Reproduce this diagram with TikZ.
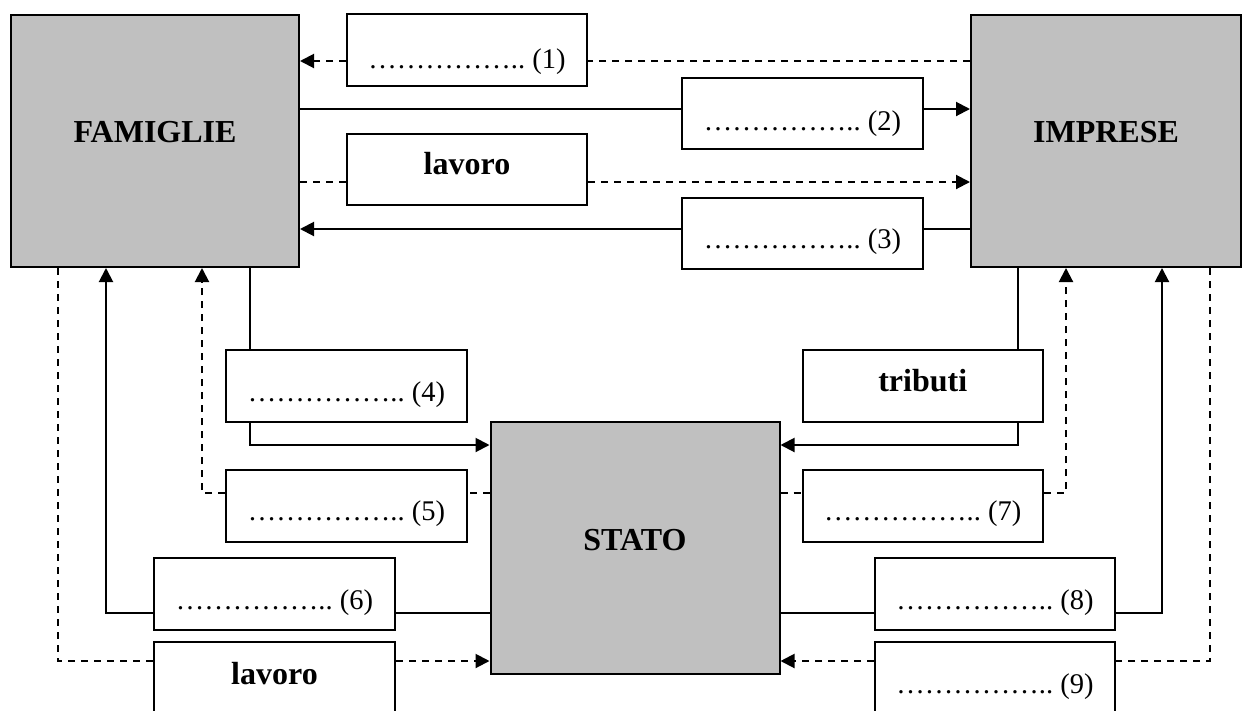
\documentclass[tikz,border=0pt]{standalone}
\usepackage{fontspec}
\setmainfont{Liberation Serif}
\usetikzlibrary{arrows.meta}
\definecolor{boxgray}{HTML}{C0C0C0}
\begin{document}
\begin{tikzpicture}[x=1pt,y=-1pt,
  lw/.style={line width=2pt},
  sl/.style={lw},
  dl/.style={lw, dash pattern=on 7pt off 6pt},
  tip/.style={-{Triangle[length=14pt,width=14pt]}},
  agent/.style={draw, lw, fill=boxgray, anchor=north west, inner sep=0pt,
    font=\fontsize{32}{38}\selectfont\bfseries, text depth=0pt},
  flowbox/.style={draw, lw, fill=white, anchor=north west, inner sep=0pt,
    font=\fontsize{28.5}{34}\selectfont, text depth=0pt},
  flowbold/.style={flowbox, font=\fontsize{32}{38}\selectfont\bfseries}
]
\useasboundingbox (0,0) rectangle (1250,710);
\fill[white] (0,0) rectangle (1250,710);
\clip (0,0) rectangle (1250,710);

% main agents
\node[agent, minimum width=288pt, minimum height=252pt, text height=3.6pt] (FAM) at (10,14) {FAMIGLIE};
\node[agent, minimum width=270pt, minimum height=252pt, text height=3.6pt] (IMP) at (970,14) {IMPRESE};
\node[agent, minimum width=289pt, minimum height=252pt, text height=5.6pt] (STATO) at (489.5,421) {STATO};

% flow boxes
\node[flowbox, minimum width=240pt, minimum height=72pt, text height=37pt] (b1) at (346,13) {……………..\ (1)};
\node[flowbox, minimum width=241pt, minimum height=71pt, text height=34pt] (b2) at (681,77) {……………..\ (2)};
\node[flowbold, minimum width=240pt, minimum height=71pt, text height=10.8pt] (lav1) at (346,133) {lavoro};
\node[flowbox, minimum width=241pt, minimum height=71pt, text height=29pt] (b3) at (681,197) {……………..\ (3)};
\node[flowbox, minimum width=241pt, minimum height=72pt, text height=31pt] (b4) at (225,349) {……………..\ (4)};
\node[flowbold, minimum width=240.5pt, minimum height=72pt, text height=11.8pt] (trib) at (801.5,349) {tributi};
\node[flowbox, minimum width=241pt, minimum height=72pt, text height=29pt] (b5) at (225,469) {……………..\ (5)};
\node[flowbox, minimum width=240.5pt, minimum height=72pt, text height=29pt] (b7) at (801.5,469) {……………..\ (7)};
\node[flowbox, minimum width=241pt, minimum height=72pt, text height=30pt] (b6) at (153,557) {……………..\ (6)};
\node[flowbox, minimum width=240pt, minimum height=72pt, text height=30pt] (b8) at (874,557) {……………..\ (8)};
\node[flowbold, minimum width=241pt, minimum height=80pt, text height=5.8pt] (lav2) at (153,641) {lavoro};
\node[flowbox, minimum width=240pt, minimum height=80pt, text height=22pt] (b9) at (874,641) {……………..\ (9)};

% helper levels
\coordinate (h1) at (0,61);
\coordinate (h2) at (0,109);
\coordinate (h3) at (0,182);
\coordinate (h4) at (0,229);
\coordinate (h5) at (0,445);
\coordinate (h6) at (0,493);
\coordinate (h7) at (0,613);
\coordinate (h8) at (0,661);
\coordinate (vA) at (58,0);
\coordinate (vB) at (106,0);
\coordinate (vC) at (202,0);
\coordinate (vD) at (250,0);
\coordinate (vE) at (1018,0);
\coordinate (vF) at (1066,0);
\coordinate (vG) at (1162,0);
\coordinate (vH) at (1210,0);

% top flows
\draw[dl] (IMP.west |- h1) -- (b1.east |- h1);
\draw[dl,tip] (b1.west |- h1) -- (FAM.east |- h1);
\draw[sl] (FAM.east |- h2) -- (b2.west |- h2);
\draw[sl,tip] (b2.east |- h2) -- (IMP.west |- h2);
\draw[dl] (FAM.east |- h3) -- (lav1.west |- h3);
\draw[dl,tip] (lav1.east |- h3) -- (IMP.west |- h3);
\draw[sl] (IMP.west |- h4) -- (b3.east |- h4);
\draw[sl,tip] (b3.west |- h4) -- (FAM.east |- h4);

% left flows
\draw[sl] (FAM.south -| vD) -- (b4.north -| vD);
\draw[sl,tip] (b4.south -| vD) |- (STATO.west |- h5);
\draw[dl] (STATO.west |- h6) -- (b5.east |- h6);
\draw[dl,tip] (b5.west |- h6) -| (FAM.south -| vC);
\draw[sl] (STATO.west |- h7) -- (b6.east |- h7);
\draw[sl,tip] (b6.west |- h7) -| (FAM.south -| vB);
\draw[dl] (FAM.south -| vA) |- (lav2.west |- h8);
\draw[dl,tip] (lav2.east |- h8) -- (STATO.west |- h8);

% right flows
\draw[sl] (IMP.south -| vE) -- (trib.north -| vE);
\draw[sl,tip] (trib.south -| vE) |- (STATO.east |- h5);
\draw[dl] (STATO.east |- h6) -- (b7.west |- h6);
\draw[dl,tip] (b7.east |- h6) -| (IMP.south -| vF);
\draw[sl] (STATO.east |- h7) -- (b8.west |- h7);
\draw[sl,tip] (b8.east |- h7) -| (IMP.south -| vG);
\draw[dl] (IMP.south -| vH) |- (b9.east |- h8);
\draw[dl,tip] (b9.west |- h8) -- (STATO.east |- h8);
\end{tikzpicture}
\end{document}
